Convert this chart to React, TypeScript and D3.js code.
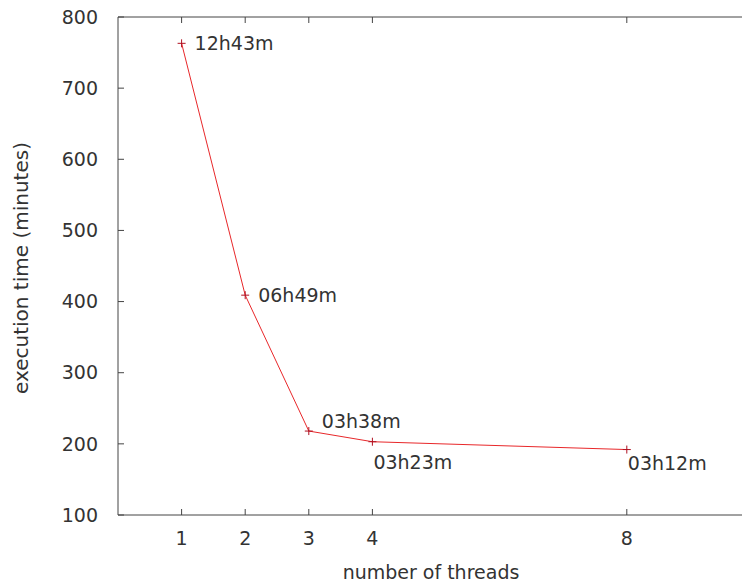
import React from "react";
import * as d3 from "d3";

const threads = [1, 2, 3, 4, 8];
const minutes = [763, 409, 218, 203, 192];
const labels = ["12h43m", "06h49m", "03h38m", "03h23m", "03h12m"];
const yTicks = [100, 200, 300, 400, 500, 600, 700, 800];
const xTicks = [1, 2, 3, 4, 8];

// label offsets (styling, px): dx, dy from point
const labelOffsets: [number, number][] = [[13, 0], [13, 0], [13, -10], [1, 21], [1, 14]];

const W = 742, H = 585;
const left = 118, top = 17, bottom = 515, right = 754;

export default function App() {
  const x = d3.scaleLinear().domain([0, 10]).range([left, right]);
  const y = d3.scaleLinear().domain([100, 800]).range([bottom, top]);
  const line = d3.line<number>().x((_, i) => x(threads[i])).y((d) => y(d));
  const font = "'DejaVu Sans', sans-serif";
  const fs = 19;
  const txt = "#333";
  const axisC = "#444";
  return (
    <svg width={W} height={H} style={{ position: "absolute", left: 0, top: 0, background: "#fff" }}>
      <rect x={0} y={0} width={W} height={H} fill="#fff" />
      <line x1={left} x2={right} y1={top} y2={top} stroke={axisC} strokeWidth={1} />
      <line x1={left} x2={right} y1={bottom} y2={bottom} stroke={axisC} strokeWidth={1} />
      <line x1={left} x2={left} y1={top} y2={bottom} stroke={axisC} strokeWidth={1} />
      {yTicks.map((t) => (
        <g key={t}>
          <line x1={left} x2={left + 6} y1={y(t)} y2={y(t)} stroke={axisC} />
          <text x={98} y={y(t)} dy="0.35em" textAnchor="end" fontFamily={font} fontSize={fs} fill={txt}>{t}</text>
        </g>
      ))}
      {xTicks.map((t) => (
        <g key={t}>
          <line x1={x(t)} x2={x(t)} y1={bottom} y2={bottom - 6} stroke={axisC} />
          <line x1={x(t)} x2={x(t)} y1={top} y2={top + 6} stroke={axisC} />
          <text x={x(t)} y={538} dy="0.35em" textAnchor="middle" fontFamily={font} fontSize={fs} fill={txt}>{t}</text>
        </g>
      ))}
      <text x={431} y={572} dy="0.35em" textAnchor="middle" fontFamily={font} fontSize={fs} fill={txt}>number of threads</text>
      <text transform={`translate(21,${268}) rotate(-90)`} dy="0.35em" textAnchor="middle" fontFamily={font} fontSize={20} fill={txt}>execution time (minutes)</text>
      <path d={line(minutes) || ""} fill="none" stroke="#e8272a" strokeWidth={1} />
      {minutes.map((m, i) => {
        const px = x(threads[i]), py = y(m);
        const [dx, dy] = labelOffsets[i];
        return (
          <g key={i}>
            <line x1={px - 4} x2={px + 4} y1={py} y2={py} stroke="#b01020" />
            <line x1={px} x2={px} y1={py - 4} y2={py + 4} stroke="#b01020" />
            <text x={px + dx} y={py + dy} dy="0.35em" fontFamily={font} fontSize={fs} fill={txt}>{labels[i]}</text>
          </g>
        );
      })}
    </svg>
  );
}
